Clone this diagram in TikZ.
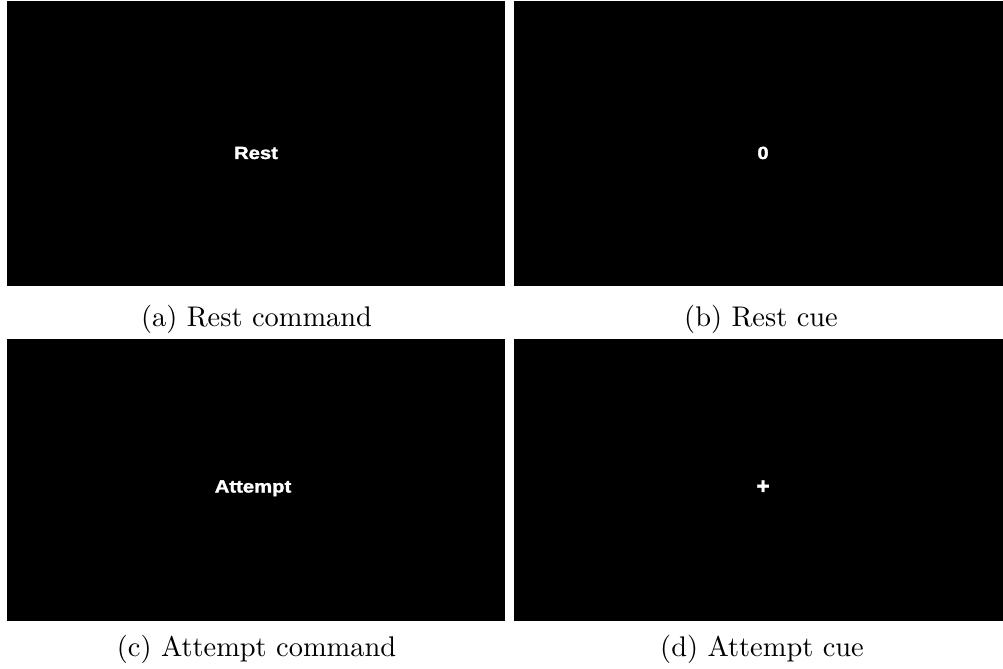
\documentclass[tikz,border=0pt]{standalone}
\usepackage{fontspec}
\newfontfamily\arialbold{Liberation Sans}[BoldFont={* Bold},BoldFeatures={FakeBold=1.5}]
\begin{document}
\begin{tikzpicture}[x=0.352pt,y=-0.352pt,
  panel/.style={fill=black,draw=none},
  screentext/.style={text=white,inner sep=0pt,anchor=base,font=\fontsize{6.2}{7}\arialbold\bfseries},
  caption/.style={inner sep=0pt,anchor=base,font=\fontsize{10}{12}\selectfont}]
\useasboundingbox (0,0) rectangle (1003,669);
\fill[white] (0,0) rectangle (1003,669);
% panels
\path[panel] (7,1) rectangle (505,285.7);
\path[panel] (514,1) rectangle (1003,285.7);
\path[panel] (7,339) rectangle (505,620.5);
\path[panel] (514,339) rectangle (1003,620.5);
% screen texts
\node[screentext] (rest) at (256,159) {\scalebox{1.15}[1]{Rest}};
\node[screentext] (zero) at (763,159) {\scalebox{1.15}[1]{0}};
\node[screentext] (attempt) at (253,492.5) {\scalebox{1.15}[1]{Attempt}};
\node[screentext,anchor=center] (plus) at (763,487) {\scalebox{1.3}{+}};
% captions
\node[caption] (capa) at (256.5,326.7) {(a) Rest command};
\node[caption] (capb) at (761,326.7) {(b) Rest cue};
\node[caption] (capc) at (256.5,656) {(c) Attempt command};
\node[caption] (capd) at (762,656) {(d) Attempt cue};
\end{tikzpicture}
\end{document}
